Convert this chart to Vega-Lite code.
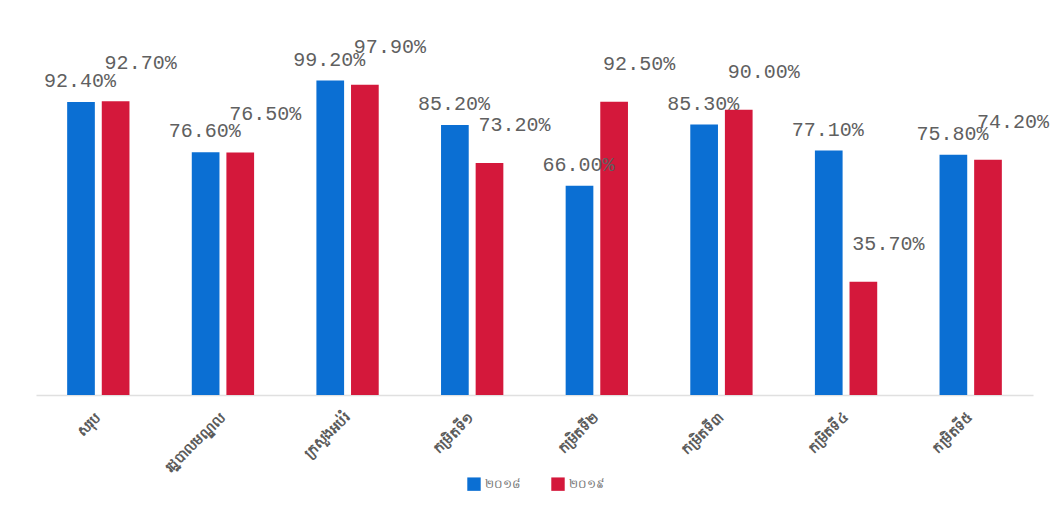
{
  "$schema": "https://vega.github.io/schema/vega-lite/v6.json",
  "autosize": {"type": "none"},
  "width": 997,
  "height": 317,
  "padding": {"left": 36, "top": 78, "right": 28, "bottom": 122},
  "background": "white",
  "config": {"view": {"stroke": null}},
  "data": {
    "values": [
      {"cat": "សរុប", "year": "២០១៨", "value": 0.924},
      {"cat": "សរុប", "year": "២០១៩", "value": 0.927},
      {"cat": "រដ្ឋបាលមណ្ឌល", "year": "២០១៨", "value": 0.766},
      {"cat": "រដ្ឋបាលមណ្ឌល", "year": "២០១៩", "value": 0.765},
      {"cat": "ក្រសួងអប់រំ", "year": "២០១៨", "value": 0.992},
      {"cat": "ក្រសួងអប់រំ", "year": "២០១៩", "value": 0.979},
      {"cat": "កម្រិតទី១", "year": "២០១៨", "value": 0.852},
      {"cat": "កម្រិតទី១", "year": "២០១៩", "value": 0.732},
      {"cat": "កម្រិតទី២", "year": "២០១៨", "value": 0.66},
      {"cat": "កម្រិតទី២", "year": "២០១៩", "value": 0.925},
      {"cat": "កម្រិតទី៣", "year": "២០១៨", "value": 0.853},
      {"cat": "កម្រិតទី៣", "year": "២០១៩", "value": 0.9},
      {"cat": "កម្រិតទី៤", "year": "២០១៨", "value": 0.771},
      {"cat": "កម្រិតទី៤", "year": "២០១៩", "value": 0.357},
      {"cat": "កម្រិតទី៥", "year": "២០១៨", "value": 0.758},
      {"cat": "កម្រិតទី៥", "year": "២០១៩", "value": 0.742}
    ]
  },
  "encoding": {
    "x": {
      "field": "cat", "type": "nominal", "sort": null, "title": null,
      "scale": {"paddingInner": 0.5, "paddingOuter": 0.25},
      "axis": {
        "labelAngle": -45, "labelAlign": "right", "labelBaseline": "middle",
        "labelPadding": 20, "labelFontSize": 14, "labelFontWeight": "bold",
        "labelColor": "#5a5a5a", "ticks": false,
        "domainColor": "#e0e0e0", "domainWidth": 1.5
      }
    },
    "xOffset": {"field": "year", "type": "nominal", "scale": {"paddingInner": 0.2}},
    "y": {
      "field": "value", "type": "quantitative",
      "scale": {"domain": [0, 1]}, "axis": null
    }
  },
  "layer": [
    {
      "mark": {"type": "bar"},
      "encoding": {
        "color": {
          "field": "year", "type": "nominal",
          "scale": {"range": ["#0b6fd3", "#d4183b"]},
          "legend": {
            "orient": "none", "direction": "horizontal", "title": null,
            "legendX": 431, "legendY": 399,
            "symbolType": "square", "symbolSize": 180, "symbolStrokeWidth": 0,
            "labelFontSize": 12, "labelColor": "#777777", "columnPadding": 30
          }
        }
      }
    },
    {
      "transform": [{"filter": "datum.year === '២០១៨'"}],
      "mark": {"type": "text", "font": "Liberation Mono", "fontSize": 20, "color": "#606060", "dx": -1, "dy": -15, "baseline": "alphabetic"},
      "encoding": {"text": {"field": "value", "type": "quantitative", "format": ".2%"}}
    },
    {
      "transform": [{"filter": "datum.year === '២០១៩'"}],
      "mark": {"type": "text", "font": "Liberation Mono", "fontSize": 20, "color": "#606060", "dx": 25, "dy": -32, "baseline": "alphabetic"},
      "encoding": {"text": {"field": "value", "type": "quantitative", "format": ".2%"}}
    }
  ]
}
